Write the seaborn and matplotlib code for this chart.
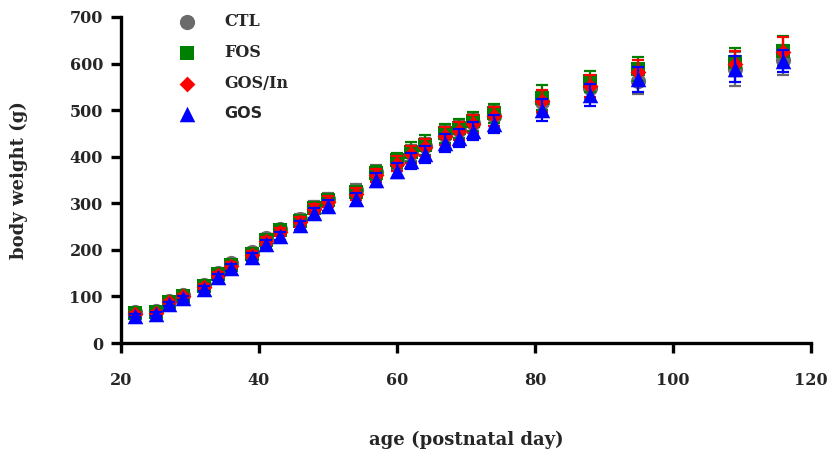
import numpy as np
import pandas as pd
import matplotlib
matplotlib.use("Agg")
import matplotlib.pyplot as plt
import seaborn as sns

days = [22, 25, 27, 29, 32, 34, 36, 39, 41, 43, 46, 48, 50, 54, 57, 60, 62, 64,
        67, 69, 71, 74, 81, 88, 95, 109, 116]

ctl = [66, 68, 90, 104, 125, 150, 171, 195, 225, 245, 266, 293, 310, 328, 368, 390,
       408, 422, 446, 457, 472, 488, 518, 548, 562, 588, 608]
fos = [64, 66, 88, 102, 123, 148, 168, 192, 222, 242, 263, 290, 307, 325, 365, 392,
       410, 425, 450, 461, 476, 493, 527, 562, 588, 603, 627]
gos_in = [63, 65, 87, 100, 121, 146, 166, 190, 219, 238, 260, 287, 303, 320, 360, 385,
          405, 420, 445, 455, 470, 487, 520, 552, 582, 600, 625]
gos = [59, 62, 84, 97, 117, 142, 162, 185, 212, 230, 253, 279, 295, 310, 350, 370,
       390, 405, 430, 440, 455, 470, 500, 532, 566, 588, 605]

ctl_sem = [4, 4, 5, 5, 6, 6, 7, 8, 9, 9, 10, 11, 12, 13, 14, 16, 17, 18, 19, 20, 20,
           21, 24, 25, 28, 37, 32]
fos_sem = [4, 4, 5, 5, 6, 6, 7, 8, 9, 9, 10, 11, 12, 13, 15, 17, 22, 21, 20, 20, 21,
           21, 27, 22, 26, 30, 32]
gos_in_sem = [4, 4, 5, 5, 6, 6, 7, 8, 9, 9, 10, 11, 12, 13, 14, 16, 18, 18, 19, 19, 20,
              20, 24, 24, 25, 26, 32]
gos_sem = [4, 4, 5, 5, 6, 6, 7, 8, 9, 9, 10, 11, 12, 13, 14, 16, 17, 18, 19, 19, 20,
           20, 24, 24, 26, 28, 24]

groups = ["CTL", "FOS", "GOS/In", "GOS"]
means = [ctl, fos, gos_in, gos]
sems = [ctl_sem, fos_sem, gos_in_sem, gos_sem]
colors = ["#6b6b6b", "#008000", "#ff0000", "#0000ff"]
markers = ["o", "s", "D", "^"]
sizes = [120, 105, 65, 125]

sns.set_style("ticks")
plt.rcParams["font.family"] = ["DejaVu Serif", "Liberation Serif"]
plt.rcParams["font.weight"] = "bold"

fig = plt.figure(figsize=(8.3, 4.53), dpi=100)
ax = fig.add_axes([0.1458, 0.2428, 0.8312, 0.7197])

for i, (g, m, s) in enumerate(zip(groups, means, sems)):
    df = pd.DataFrame({"day": days, "weight": m, "sem": s})
    ax.errorbar(df["day"], df["weight"], yerr=df["sem"], fmt="none",
                ecolor=colors[i], elinewidth=1.6, capsize=4.5, capthick=1.6,
                zorder=2 + 2 * i)
    sns.scatterplot(data=df, x="day", y="weight", ax=ax, color=colors[i],
                    marker=markers[i], s=sizes[i], linewidth=0, label=g,
                    zorder=3 + 2 * i)

ax.set_xlim(20, 120)
ax.set_ylim(0, 700)
ax.set_xticks([20, 40, 60, 80, 100, 120])
ax.set_yticks(range(0, 701, 100))
sns.despine(ax=ax)
for sp in ["left", "bottom"]:
    ax.spines[sp].set_linewidth(2.4)
    ax.spines[sp].set_color("black")
ax.tick_params(axis="both", width=2.4, length=7, labelsize=11.5, pad=6, color="black")
ax.tick_params(axis="x", pad=14)
for lab in ax.get_xticklabels() + ax.get_yticklabels():
    lab.set_fontweight("bold")

ax.set_xlabel("age (postnatal day)", fontsize=13, fontweight="bold", labelpad=30)
ax.set_ylabel("body weight (g)", fontsize=13, fontweight="bold", labelpad=30)

leg = ax.legend(loc="upper left", bbox_to_anchor=(0.052, 1.057), frameon=False,
                labelspacing=0.88, handletextpad=1.3,
                prop={"weight": "bold", "size": 11.5})
texts = leg.get_texts()
texts[3].set_fontfamily(["DejaVu Sans"])

fig.savefig("out.png", dpi=100)
